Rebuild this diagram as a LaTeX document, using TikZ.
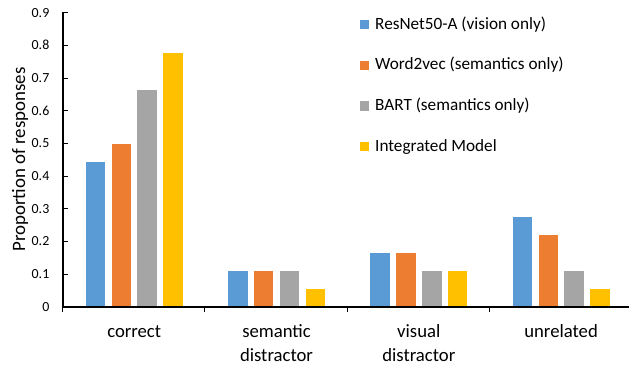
\documentclass[tikz,border=0pt]{standalone}
\usepackage{fontspec}
\setmainfont{Carlito}
\definecolor{cblue}{HTML}{5B9BD5}
\definecolor{corange}{HTML}{ED7D31}
\definecolor{cgray}{HTML}{A5A5A5}
\definecolor{cgold}{HTML}{FFC000}
\begin{document}
\begin{tikzpicture}[x=1pt,y=-1pt,
  barfill/.style={draw=white, line width=0.7pt},
  axisline/.style={line width=2pt, black},
  tickline/.style={line width=1pt, black},
  ticklab/.style={anchor=base east, inner sep=0pt, font=\fontsize{13.9}{16}\selectfont},
  catlab/.style={anchor=base, inner sep=0pt, font=\fontsize{18.7}{22}\selectfont},
  leglab/.style={anchor=base west, inner sep=0pt, font=\fontsize{17.2}{20}\selectfont},
  legsq/.style={minimum size=9.3pt, inner sep=0pt, draw=none},
  ytitlestyle/.style={anchor=base, rotate=90, inner sep=0pt, font=\fontsize{18.9}{22}\selectfont}]
\useasboundingbox (0,0) rectangle (629,366);
% bars
\foreach \ci/\va/\vb/\vc/\vd in {0/0.4444/0.5/0.6667/0.7778, 1/0.1111/0.1111/0.1111/0.0556, 2/0.1667/0.1667/0.1111/0.1111, 3/0.2778/0.2222/0.1111/0.0556}{
  \foreach \v/\col [count=\j from 0] in {\va/cblue,\vb/corange,\vc/cgray,\vd/cgold}{
    \path[barfill, fill=\col] ({62.5+142.3*\ci+22.7+25.8*\j}, 306.7) rectangle ++(20.5, {-\v*326.7});
  }
}
% axes
\draw[axisline] (62.5,12) -- (62.5,307.7);
\draw[axisline] (61.5,306.7) -- (629,306.7);
\foreach \k/\lab in {0/0,1/0.1,2/0.2,3/0.3,4/0.4,5/0.5,6/0.6,7/0.7,8/0.8,9/0.9}{
  \draw[tickline] (62.5,{306.7-32.67*\k}) -- ++(5.5,0);
  \node[ticklab] (tl\k) at (49.5,{306.7-32.67*\k+4.6}) {\lab};
}
\foreach \i in {0,...,3}{
  \draw[tickline] ({62.5+142.3*\i},306.7) -- ++(0,5.5);
}
% category labels
\node[catlab] (cat1) at (134.2,337.3) {correct};
\node[catlab] (cat2a) at (276.5,337.3) {semantic};
\node[catlab] (cat2b) at (276.5,361.3) {distractor};
\node[catlab] (cat3a) at (418.8,337.3) {visual};
\node[catlab] (cat3b) at (418.8,361.3) {distractor};
\node[catlab] (cat4) at (561.1,337.3) {unrelated};
% y title
\node[ytitlestyle] (ytitle) at (25,159.5) {Proportion of responses};
% legend
\node[legsq, fill=cblue] (sq1) at (364.7,24.7) {};
\node[legsq, fill=corange] (sq2) at (364.7,65.3) {};
\node[legsq, fill=cgray] (sq3) at (364.7,105.9) {};
\node[legsq, fill=cgold] (sq4) at (364.7,146.5) {};
\node[leglab] (lg1) at (375,29.3) {ResNet50-A (vision only)};
\node[leglab] (lg2) at (375,69.9) {Word2vec (semantics only)};
\node[leglab] (lg3) at (375,110.5) {BART (semantics only)};
\node[leglab] (lg4) at (375,151.1) {Integrated Model};
\end{tikzpicture}
\end{document}
